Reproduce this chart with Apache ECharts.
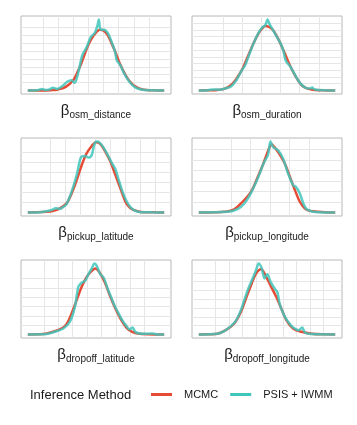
<!DOCTYPE html>
<html>
<head>
<meta charset="utf-8">
<script src="https://cdn.jsdelivr.net/npm/echarts@6/dist/echarts.min.js"></script>
<style>
  html, body { margin: 0; padding: 0; background: #ffffff; }
  #chart { width: 357px; height: 425px; }
</style>
</head>
<body>
<div id="chart"></div>
<script>
// parameter names (facet labels)
const paramNames = ['osm_distance', 'osm_duration', 'pickup_latitude', 'pickup_longitude', 'dropoff_latitude', 'dropoff_longitude']
const methodNames = ['MCMC', 'PSIS + IWMM']

// density curves, [x, density], x and density in each panel's own units
const mcmcOsmDistance = [[0,0],[1,0.01],[1.5,0.04],[2,0.13],[2.5,0.45],[3,1.3],[3.25,2.2],[3.5,3.3],[3.75,4.6],[4,5.8],[4.25,6.7],[4.5,7.35],[4.75,7.7],[5,7.6],[5.25,7.1],[5.5,6.1],[5.75,5.0],[6,3.75],[6.25,2.7],[6.5,1.8],[6.75,1.1],[7,0.62],[7.5,0.15],[8,0.04],[8.5,0.01],[9,0]]
const psisOsmDistance = [[0,0],[0.6,0.02],[0.93,0.2],[1.15,0.05],[1.38,0.1],[1.67,0.34],[1.93,0.2],[2.27,0.55],[2.6,1.1],[2.87,1.3],[3.09,0.97],[3.31,2.15],[3.6,4.47],[3.89,5.5],[4.16,6.8],[4.42,7.3],[4.6,8.27],[4.69,9.0],[4.8,7.72],[5.04,7.72],[5.27,7.3],[5.53,6.16],[5.76,4.9],[5.87,3.84],[6.11,3.2],[6.38,2.07],[6.71,1.1],[7.04,0.46],[7.49,0.13],[8.16,0.02],[9,0]]

const mcmcOsmDuration = [[-0.28,0],[0.3,0.02],[0.7,0.06],[1.0,0.2],[1.23,0.45],[1.5,1.05],[1.76,2.04],[2.02,3.3],[2.28,5.0],[2.55,6.8],[2.81,8.3],[3.0,9.1],[3.2,9.6],[3.4,9.45],[3.6,9.0],[3.8,8.1],[3.95,7.26],[4.22,5.52],[4.48,3.78],[4.75,2.29],[5.1,0.8],[5.35,0.35],[5.62,0.15],[6.0,0.04],[6.4,0.01],[6.86,0]]
const psisOsmDuration = [[-0.28,0],[0.2,0.04],[0.5,0.15],[0.8,0.1],[1.1,0.3],[1.4,0.6],[1.7,1.6],[1.95,2.9],[2.15,3.8],[2.35,5.3],[2.6,7.1],[2.85,8.6],[3.05,9.4],[3.2,9.7],[3.32,10.55],[3.42,9.9],[3.6,9.0],[3.8,8.0],[4.0,7.0],[4.15,5.9],[4.25,4.6],[4.35,4.1],[4.5,3.6],[4.7,2.6],[4.9,1.6],[5.1,0.85],[5.35,0.35],[5.55,0.3],[5.65,0.45],[5.75,0.2],[6.0,0.05],[6.4,0.02],[6.86,0]]

const mcmcPickupLat = [[-0.52,0],[0.5,0.04],[0.95,0.1],[1.51,0.3],[2.08,0.9],[2.42,1.9],[2.76,3.23],[3.1,4.73],[3.43,5.9],[3.77,6.63],[4.07,7.0],[4.34,6.83],[4.68,6.07],[5.02,5.07],[5.36,3.73],[5.69,2.4],[6.03,1.07],[6.25,0.6],[6.49,0.3],[6.9,0.1],[7.28,0.03],[8,0.01],[8.63,0]]
const psisPickupLat = [[-0.52,0],[0.3,0.03],[0.72,0.13],[1.06,0.23],[1.36,0.43],[1.63,0.37],[1.85,0.55],[2.08,0.83],[2.42,2.07],[2.76,3.73],[2.98,5.23],[3.1,5.57],[3.32,5.63],[3.55,5.47],[3.77,5.73],[3.93,6.73],[4.11,7.07],[4.34,6.9],[4.68,6.17],[5.13,4.9],[5.36,4.3],[5.58,3.23],[5.92,1.73],[6.26,0.73],[6.6,0.23],[7.05,0.03],[7.8,0.01],[8.63,0]]

const mcmcPickupLon = [[-0.64,0],[0.2,0.02],[0.66,0.06],[1.17,0.29],[1.6,1.02],[2.03,1.97],[2.38,3.4],[2.64,4.55],[2.85,5.6],[3.0,6.3],[3.08,6.5],[3.2,6.3],[3.41,5.78],[3.76,4.67],[4.02,3.4],[4.28,2.13],[4.53,1.02],[4.79,0.38],[5.05,0.15],[5.31,0.1],[5.8,0.02],[6.34,0]]
const psisPickupLon = [[-0.64,0],[0.8,0.06],[1.34,0.32],[1.69,0.86],[2.03,1.87],[2.41,3.4],[2.67,4.67],[2.9,5.5],[3.03,6.76],[3.16,6.25],[3.41,5.94],[3.67,5.14],[3.93,3.71],[4.19,2.6],[4.33,2.44],[4.53,1.81],[4.71,0.86],[4.88,0.29],[5.0,0.22],[5.14,0.1],[5.5,0.03],[6.34,0]]

const mcmcDropoffLat = [[-0.12,0],[0.93,0.04],[1.64,0.29],[2.22,0.64],[2.57,1.1],[2.92,2.25],[3.27,3.68],[3.62,5.11],[3.97,6.18],[4.32,6.82],[4.56,7.07],[4.91,6.54],[5.26,5.46],[5.61,4.04],[5.96,2.79],[6.31,1.71],[6.78,0.64],[7.1,0.3],[7.48,0.11],[8.2,0.02],[9.35,0]]
const psisDropoffLat = [[-0.12,0],[1.17,0.04],[1.75,0.29],[2.34,0.64],[2.8,1.36],[3.15,2.96],[3.39,5.11],[3.62,5.54],[3.86,5.75],[4.09,6.46],[4.32,7.07],[4.51,7.6],[4.67,7.36],[4.91,6.46],[5.14,6.1],[5.42,4.93],[5.65,4.04],[5.84,3.32],[6.12,2.43],[6.43,1.54],[6.73,0.89],[6.96,0.54],[7.15,0.75],[7.36,0.25],[7.83,0.07],[8.53,0.1],[8.88,0],[9.35,0]]

const mcmcDropoffLon = [[-0.25,0],[0.6,0.02],[1.13,0.08],[1.75,0.5],[2.38,1.25],[2.88,2.58],[3.25,4.09],[3.63,5.61],[4.0,6.94],[4.38,7.42],[4.75,6.55],[5.13,5.42],[5.5,4.28],[5.88,2.95],[6.25,1.63],[6.75,0.68],[7.38,0.3],[8.13,0.08],[9,0.01],[9.88,0]]
const psisDropoffLon = [[-0.25,0],[1.13,0.08],[1.63,0.38],[2.13,0.95],[2.5,1.55],[2.88,2.77],[3.13,3.9],[3.43,5.23],[3.75,6.36],[4.0,7.31],[4.2,8.07],[4.43,7.5],[4.63,6.36],[4.83,6.86],[5.08,5.98],[5.38,5.23],[5.58,4.85],[5.75,3.52],[6.08,2.2],[6.38,1.44],[6.75,0.8],[7.18,0.49],[7.43,0.8],[7.63,0.23],[8.13,0.04],[9.88,0]]

const mcmcCurves = [mcmcOsmDistance, mcmcOsmDuration, mcmcPickupLat, mcmcPickupLon, mcmcDropoffLat, mcmcDropoffLon]
const psisCurves = [psisOsmDistance, psisOsmDuration, psisPickupLat, psisPickupLon, psisDropoffLat, psisDropoffLon]

const colors = { mcmc: '#E64B35', psis: '#3FC6BC' }
const font = 'Liberation Sans, Arial, sans-serif'

// panel layout: 2 columns, 3 rows
const panelLeft = [21, 192]
const panelTop = [16, 138, 260]
const panelW = 150
const panelH = 78

// grid lines sit on whole numbers of each panel's units
const wholeSteps = (lo, hi) => {
  const out = []
  for (let v = Math.ceil(lo); v <= Math.floor(hi); v++) out.push(v)
  return out
}

const chart = echarts.init(document.getElementById('chart'))

const grids = []
const xAxes = []
const yAxes = []
const series = []

paramNames.forEach((name, i) => {
  const col = i % 2
  const row = Math.floor(i / 2)
  grids.push({
    left: panelLeft[col], top: panelTop[row], width: panelW, height: panelH,
    show: true, borderColor: '#b8b8b8', borderWidth: 1, backgroundColor: '#fff'
  })

  // ggplot-like 5% expansion of the data range
  const all = mcmcCurves[i].concat(psisCurves[i])
  const xs = all.map(p => p[0])
  const ys = all.map(p => p[1])
  const x0 = Math.min(...xs), x1 = Math.max(...xs)
  const yMax = Math.max(...ys)
  const xPad = (x1 - x0) * 0.05
  const yPad = yMax * 0.05
  const xTicks = wholeSteps(x0 - xPad + 0.01, x1 + xPad - 0.01)
  const yTicks = wholeSteps(-yPad + 0.01, yMax + yPad - 0.01)

  const splitLine = {
    show: true, showMinLine: false, showMaxLine: false,
    lineStyle: { color: '#e6e6e6', width: 1 }
  }
  xAxes.push({
    type: 'value', gridIndex: i,
    min: x0 - xPad, max: x1 + xPad,
    axisLine: { show: false },
    axisTick: { show: false, customValues: xTicks },
    axisLabel: { show: false, customValues: xTicks },
    splitLine,
    name: '{b|β}{s|' + name + '}',
    nameLocation: 'middle',
    nameGap: 8,
    nameTextStyle: {
      color: '#1a1a1a',
      rich: {
        b: { fontSize: 15, fontFamily: font, color: '#1a1a1a', lineHeight: 18 },
        s: { fontSize: 10, fontFamily: font, color: '#1a1a1a', lineHeight: 12, verticalAlign: 'bottom' }
      }
    }
  })
  yAxes.push({
    type: 'value', gridIndex: i,
    min: -yPad, max: yMax + yPad,
    axisLine: { show: false },
    axisTick: { show: false, customValues: yTicks },
    axisLabel: { show: false, customValues: yTicks },
    splitLine
  })

  series.push({
    name: methodNames[0], type: 'line', xAxisIndex: i, yAxisIndex: i,
    data: mcmcCurves[i], showSymbol: false, smooth: 0.35, color: colors.mcmc,
    lineStyle: { width: 2.5, color: colors.mcmc }, z: 2
  })
  series.push({
    name: methodNames[1], type: 'line', xAxisIndex: i, yAxisIndex: i,
    data: psisCurves[i], showSymbol: false, smooth: 0.3, color: colors.psis,
    lineStyle: { width: 2.5, color: colors.psis, opacity: 0.85 }, z: 3
  })
})

const option = {
  animation: false,
  backgroundColor: '#ffffff',
  grid: grids,
  xAxis: xAxes,
  yAxis: yAxes,
  series,
  legend: {
    data: methodNames.map(n => ({ name: n, icon: 'rect' })),
    left: 146, top: 384,
    itemWidth: 21, itemHeight: 3, itemGap: 12,
    selectedMode: false,
    textStyle: { fontSize: 11, fontFamily: font, color: '#1a1a1a', padding: [0, 0, 0, 7] }
  },
  graphic: [{
    type: 'text', left: 30, top: 389,
    style: { text: 'Inference Method', fontSize: 13, fontFamily: font, fill: '#1a1a1a' }
  }]
}

chart.setOption(option)
</script>
</body>
</html>
